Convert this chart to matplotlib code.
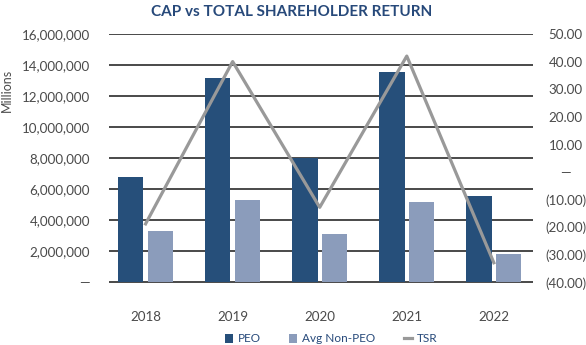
import matplotlib
matplotlib.use('Agg')
import matplotlib.pyplot as plt
import numpy as np
from matplotlib.ticker import FuncFormatter

plt.rcParams['font.family'] = ['Lato', 'DejaVu Sans']

# data
years = ['2018', '2019', '2020', '2021', '2022']
peo = [6.8e6, 13.2e6, 8.0e6, 13.55e6, 5.58e6]
non_peo = [3.3e6, 5.3e6, 3.1e6, 5.15e6, 1.82e6]
tsr = [-18.8, 40.1, -12.8, 42.1, -32.9]

left_ticks = np.arange(0, 16e6 + 1, 2e6)
right_ticks = np.arange(-40, 51, 10)

navy = '#264f7a'
light = '#8b9cbb'
grey_line = '#999999'
text_col = '#4a4a4a'
title_col = '#27497a'

fig = plt.figure(figsize=(5.86, 3.45), dpi=100)
ax = fig.add_axes([0.186, 0.1383, 0.7236, 0.7623])

x = np.arange(len(years))
w = 0.29
ax.bar(x - 0.17, peo, w, color=navy, label='PEO', zorder=3)
ax.bar(x + 0.17, non_peo, w, color=light, label='Avg Non-PEO', zorder=3)
ax.set_ylim(-0.968e6, 16e6)
ax.set_xlim(-0.42, 4.45)
ax.set_yticks(left_ticks)
ax.yaxis.set_major_formatter(FuncFormatter(lambda v, p: '—' if v == 0 else f'{v:,.0f}'))
ax.set_xticks(x)
ax.set_xticklabels(years)
ax.grid(axis='y', color='#3a3a3a', linewidth=1.3)
ax.set_axisbelow(True)
ax.tick_params(axis='y', length=0, pad=13.7, labelsize=9.6, labelcolor=text_col)
ax.tick_params(axis='x', length=0, pad=10, labelsize=9.6, labelcolor=text_col)
for s in ax.spines.values():
    s.set_visible(False)

ax2 = ax.twinx()
ax2.plot(x, tsr, color=grey_line, linewidth=2.3, label='TSR', zorder=4)
ax2.set_ylim(-45.44, 50)
ax2.set_yticks(right_ticks)


def acct(v, p):
    if v == 0:
        return '—'
    if v < 0:
        return f'({abs(v):.2f})'
    return f'{v:.2f}'


ax2.yaxis.set_major_formatter(FuncFormatter(acct))
ax2.tick_params(axis='y', length=0, pad=23.4, labelsize=9.6, labelcolor=text_col)
for lbl in ax2.get_yticklabels():
    lbl.set_horizontalalignment('center')
for s in ax2.spines.values():
    s.set_visible(False)

fig.text(0.497, 0.985, 'CAP vs TOTAL SHAREHOLDER RETURN', ha='center', va='top',
         fontsize=11, fontweight='bold', color=title_col)
fig.text(0.012, 1 - 90 / 345, 'Millions', rotation=90, ha='center', va='center',
         fontsize=9, color=text_col)

h1, l1 = ax.get_legend_handles_labels()
h2, l2 = ax2.get_legend_handles_labels()
leg = fig.legend(h1 + h2, l1 + l2, loc='center', bbox_to_anchor=(331 / 586, 6 / 345),
                 ncol=3, frameon=False, fontsize=8.5, handlelength=0.7, handleheight=0.7,
                 handletextpad=0.4, columnspacing=2.4)
for t in leg.get_texts():
    t.set_color(title_col)

fig.savefig('out.png', dpi=100)
